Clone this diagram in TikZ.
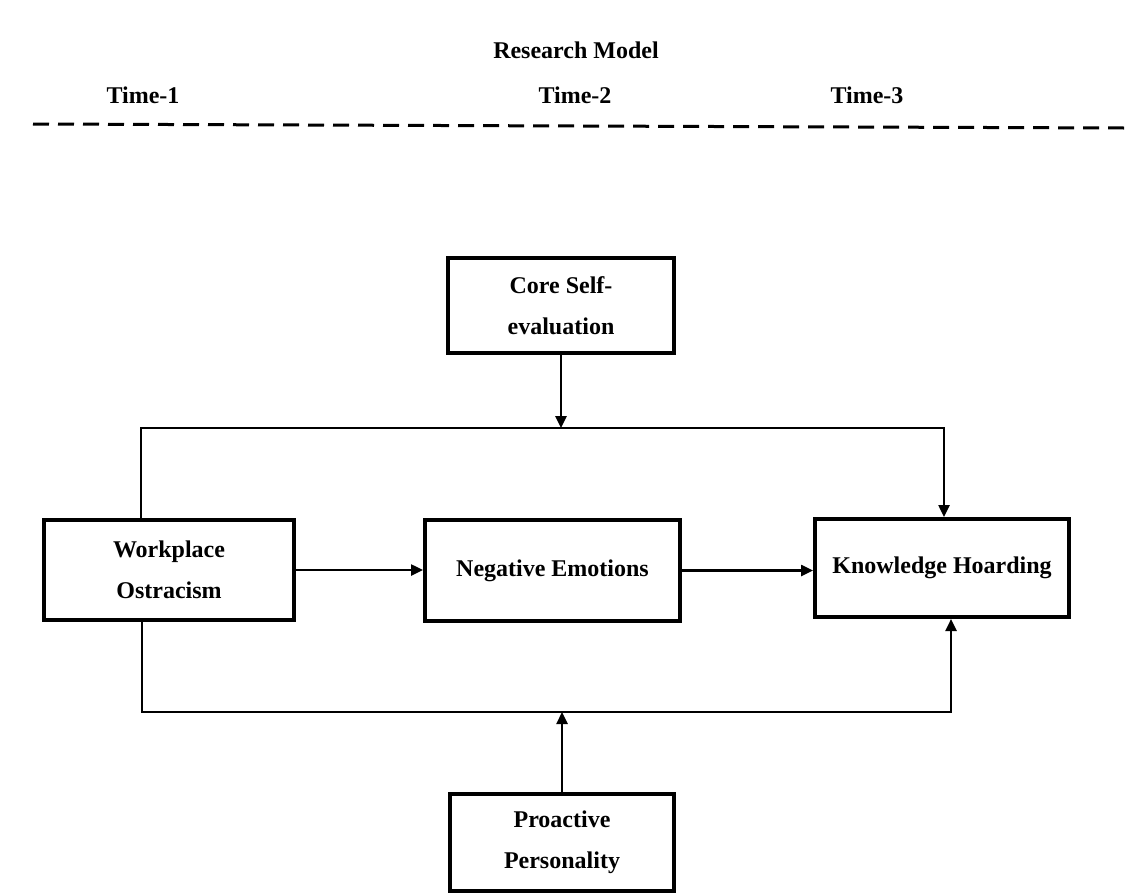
\documentclass[tikz,border=0pt]{standalone}
\usepackage{fontspec}
\setmainfont{Liberation Serif}
\usetikzlibrary{arrows.meta,positioning}
\tikzset{
  blk/.style={draw,rectangle,line width=4pt,align=center,font=\fontsize{24}{41}\selectfont\bfseries,inner sep=0pt},
  arr/.style={-{Triangle[length=12pt,width=11pt]},line width=2.5pt},
  wire/.style={line width=2.5pt},
  lbl/.style={font=\fontsize{24}{29}\selectfont\bfseries}
}

\begin{document}
\begin{tikzpicture}[x=1pt,y=-1pt]
  \useasboundingbox (0,0) rectangle (1134,895);
  % Title and time waves
  \node[lbl] (title) at (576,50) {Research Model};
  \node[lbl] (t1) at (143,95) {Time-1};
  \node[lbl] (t2) at (575,95) {Time-2};
  \node[lbl] (t3) at (867,95) {Time-3};
  \draw[line width=3pt, dash pattern=on 16pt off 9pt] (33,124) -- (1125,128);

  % Constructs
  \node[blk, minimum width=226pt, minimum height=95pt] (core) at (561,305.5) {Core Self-\\evaluation};
  \node[blk, minimum width=250pt, minimum height=100pt] (work) at (169,570) {Workplace\\Ostracism};
  \node[blk, minimum width=255pt, minimum height=101pt] (neg) at (552.5,570.5) {Negative Emotions};
  \node[blk, minimum width=254pt, minimum height=98pt] (know) at (942,568) {Knowledge Hoarding};
  \node[blk, minimum width=224pt, minimum height=97pt] (pro) at (562,842.5) {Proactive\\Personality};

  % Bend points
  \coordinate (tl) at (141,428);
  \coordinate (tr) at (944,428);
  \coordinate (bl) at (142,712);
  \coordinate (br) at (951,712);

  % Main path
  \draw[arr] (work.east) -- (work.east -| neg.west);
  \draw[arr] (neg.east) -- (neg.east -| know.west);

  % Moderators
  \draw[arr] (work.north -| tl) -- (tl) -- (tr) -- (know.north -| tr);
  \draw[arr] (work.south -| bl) -- (bl) -- (br) -- (know.south -| br);
  \draw[arr] (core.south) -- (core.south |- tl);
  \draw[arr] (pro.north) -- (pro.north |- bl);

\end{tikzpicture}
\end{document}
